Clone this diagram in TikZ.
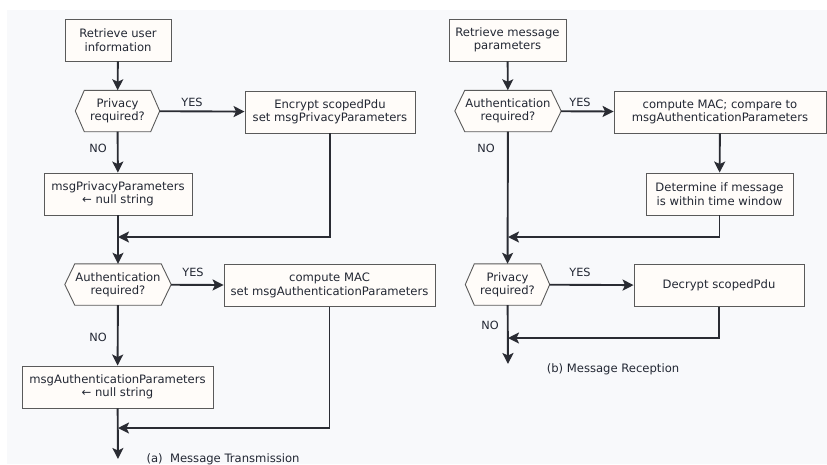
\documentclass[tikz,border=0pt]{standalone}
\usepackage{fontspec}
\setmainfont{DejaVu Sans}
\usetikzlibrary{arrows.meta,calc}
\definecolor{bgc}{HTML}{F8F9FB}
\definecolor{boxfill}{HTML}{FFFCF9}
\definecolor{boxline}{HTML}{5A5A5A}
\definecolor{txt}{HTML}{222733}
\definecolor{arr}{HTML}{2A2C33}
\tikzset{
  procbox/.style={draw=boxline, line width=0.9pt, fill=boxfill, text=txt, align=center,
    inner sep=0pt, minimum height=42pt, font=\fontsize{11.6}{13.5}\selectfont},
  hexnode/.style={inner sep=0pt, minimum height=41pt, text=txt, align=center,
    font=\fontsize{11.6}{13}\selectfont},
  hexline/.style={draw=boxline, line width=0.9pt, fill=boxfill},
  conn/.style={draw=arr, line width=1.9pt, -{Stealth[length=11pt,width=11pt,inset=2.5pt]}},
  lbl/.style={text=txt, inner sep=0pt, font=\fontsize{11.3}{13}\selectfont},
  captext/.style={text=txt, inner sep=0pt, font=\fontsize{11.6}{13}\selectfont}
}
\newcommand{\hexdraw}[2]{% name, indent
  \path[hexline] (#1.west) -- ($(#1.north west)+(#2pt,0)$) -- ($(#1.north east)-(#2pt,0)$)
    -- (#1.east) -- ($(#1.south east)-(#2pt,0)$) -- ($(#1.south west)+(#2pt,0)$) -- cycle;}
\begin{document}
\begin{tikzpicture}[x=1pt,y=-1pt]
\useasboundingbox (0,0) rectangle (827,464);
\fill[white] (0,0) rectangle (827,464);
\fill[bgc] (7,10) rectangle (827,464);

% ---------- left: transmission ----------
\node[procbox, minimum width=106pt] (L1) at (118,40) {Retrieve user\\information};
\node[hexnode, minimum width=84pt] (LH1) at (117.5,111) {};
\hexdraw{LH1}{9}
\node[hexnode] at (LH1) {Privacy\\required?};
\node[procbox, minimum width=170pt] (LE) at (330,112) {Encrypt scopedPdu\\set msgPrivacyParameters};
\node[procbox, minimum width=148pt] (LN1) at (118,194) {msgPrivacyParameters\\← null string};
\node[hexnode, minimum width=106pt] (LH2) at (118,284.5) {};
\hexdraw{LH2}{10}
\node[hexnode] at (LH2) {Authentication\\required?};
\node[procbox, minimum width=211pt] (LM) at (329.5,285.5) {compute MAC\\set msgAuthenticationParameters};
\node[procbox, minimum width=191pt] (LN2) at (117.5,387) {msgAuthenticationParameters\\← null string};

\coordinate (LJ1) at (118,237);
\coordinate (LJ2) at (118,428);
\coordinate (Lend) at (118,459);

\draw[conn] (L1) -- (LH1);
\draw[conn] (LH1) -- (LE);
\draw[conn] (LH1) -- (LN1);
\draw[conn] (LN1) -- (LH2);
\draw[conn] (LE.south) |- (LJ1);
\draw[conn] (LH2) -- (LM);
\draw[conn] (LH2) -- (LN2);
\draw[conn] (LN2) -- (Lend);
\draw[conn] (LM.south) |- (LJ2);

\node[lbl] (ly1) at (192,102) {YES};
\node[lbl] (ln1) at (98,148) {NO};
\node[lbl] (ly2) at (193,272) {YES};
\node[lbl] (ln2) at (98,337) {NO};
\node[captext] (capa) at (223,459) {(a)\ \ Message Transmission};

% ---------- right: reception ----------
\node[procbox, minimum width=117pt] (R1) at (507.5,40) {Retrieve message\\parameters};
\node[hexnode, minimum width=106pt] (RH1) at (508,111) {};
\hexdraw{RH1}{10}
\node[hexnode] at (RH1) {Authentication\\required?};
\node[procbox, minimum width=212pt] (RM) at (720,112) {compute MAC; compare to\\msgAuthenticationParameters};
\node[procbox, minimum width=147pt] (RD) at (719.5,194) {Determine if message\\is within time window};
\node[hexnode, minimum width=84pt] (RH2) at (507.5,284.5) {};
\hexdraw{RH2}{9}
\node[hexnode] at (RH2) {Privacy\\required?};
\node[procbox, minimum width=170pt] (RC) at (719,285.5) {Decrypt scopedPdu};

\coordinate (RJ1) at (508,237);
\coordinate (RJ2) at (508,338);
\coordinate (Rend) at (508,364);

\draw[conn] (R1) -- (RH1);
\draw[conn] (RH1) -- (RM);
\draw[conn] (RM) -- (RD);
\draw[conn] (RH1) -- (RH2);
\draw[conn] (RD.south) |- (RJ1);
\draw[conn] (RH2) -- (RC);
\draw[conn] (RH2) -- (Rend);
\draw[conn] (RC.south) |- (RJ2);

\node[lbl] (ry1) at (580,102) {YES};
\node[lbl] (rn1) at (486,148) {NO};
\node[lbl] (ry2) at (580,272) {YES};
\node[lbl] (rn2) at (490,325) {NO};
\node[captext] (capb) at (613,369) {(b) Message Reception};
\end{tikzpicture}
\end{document}
